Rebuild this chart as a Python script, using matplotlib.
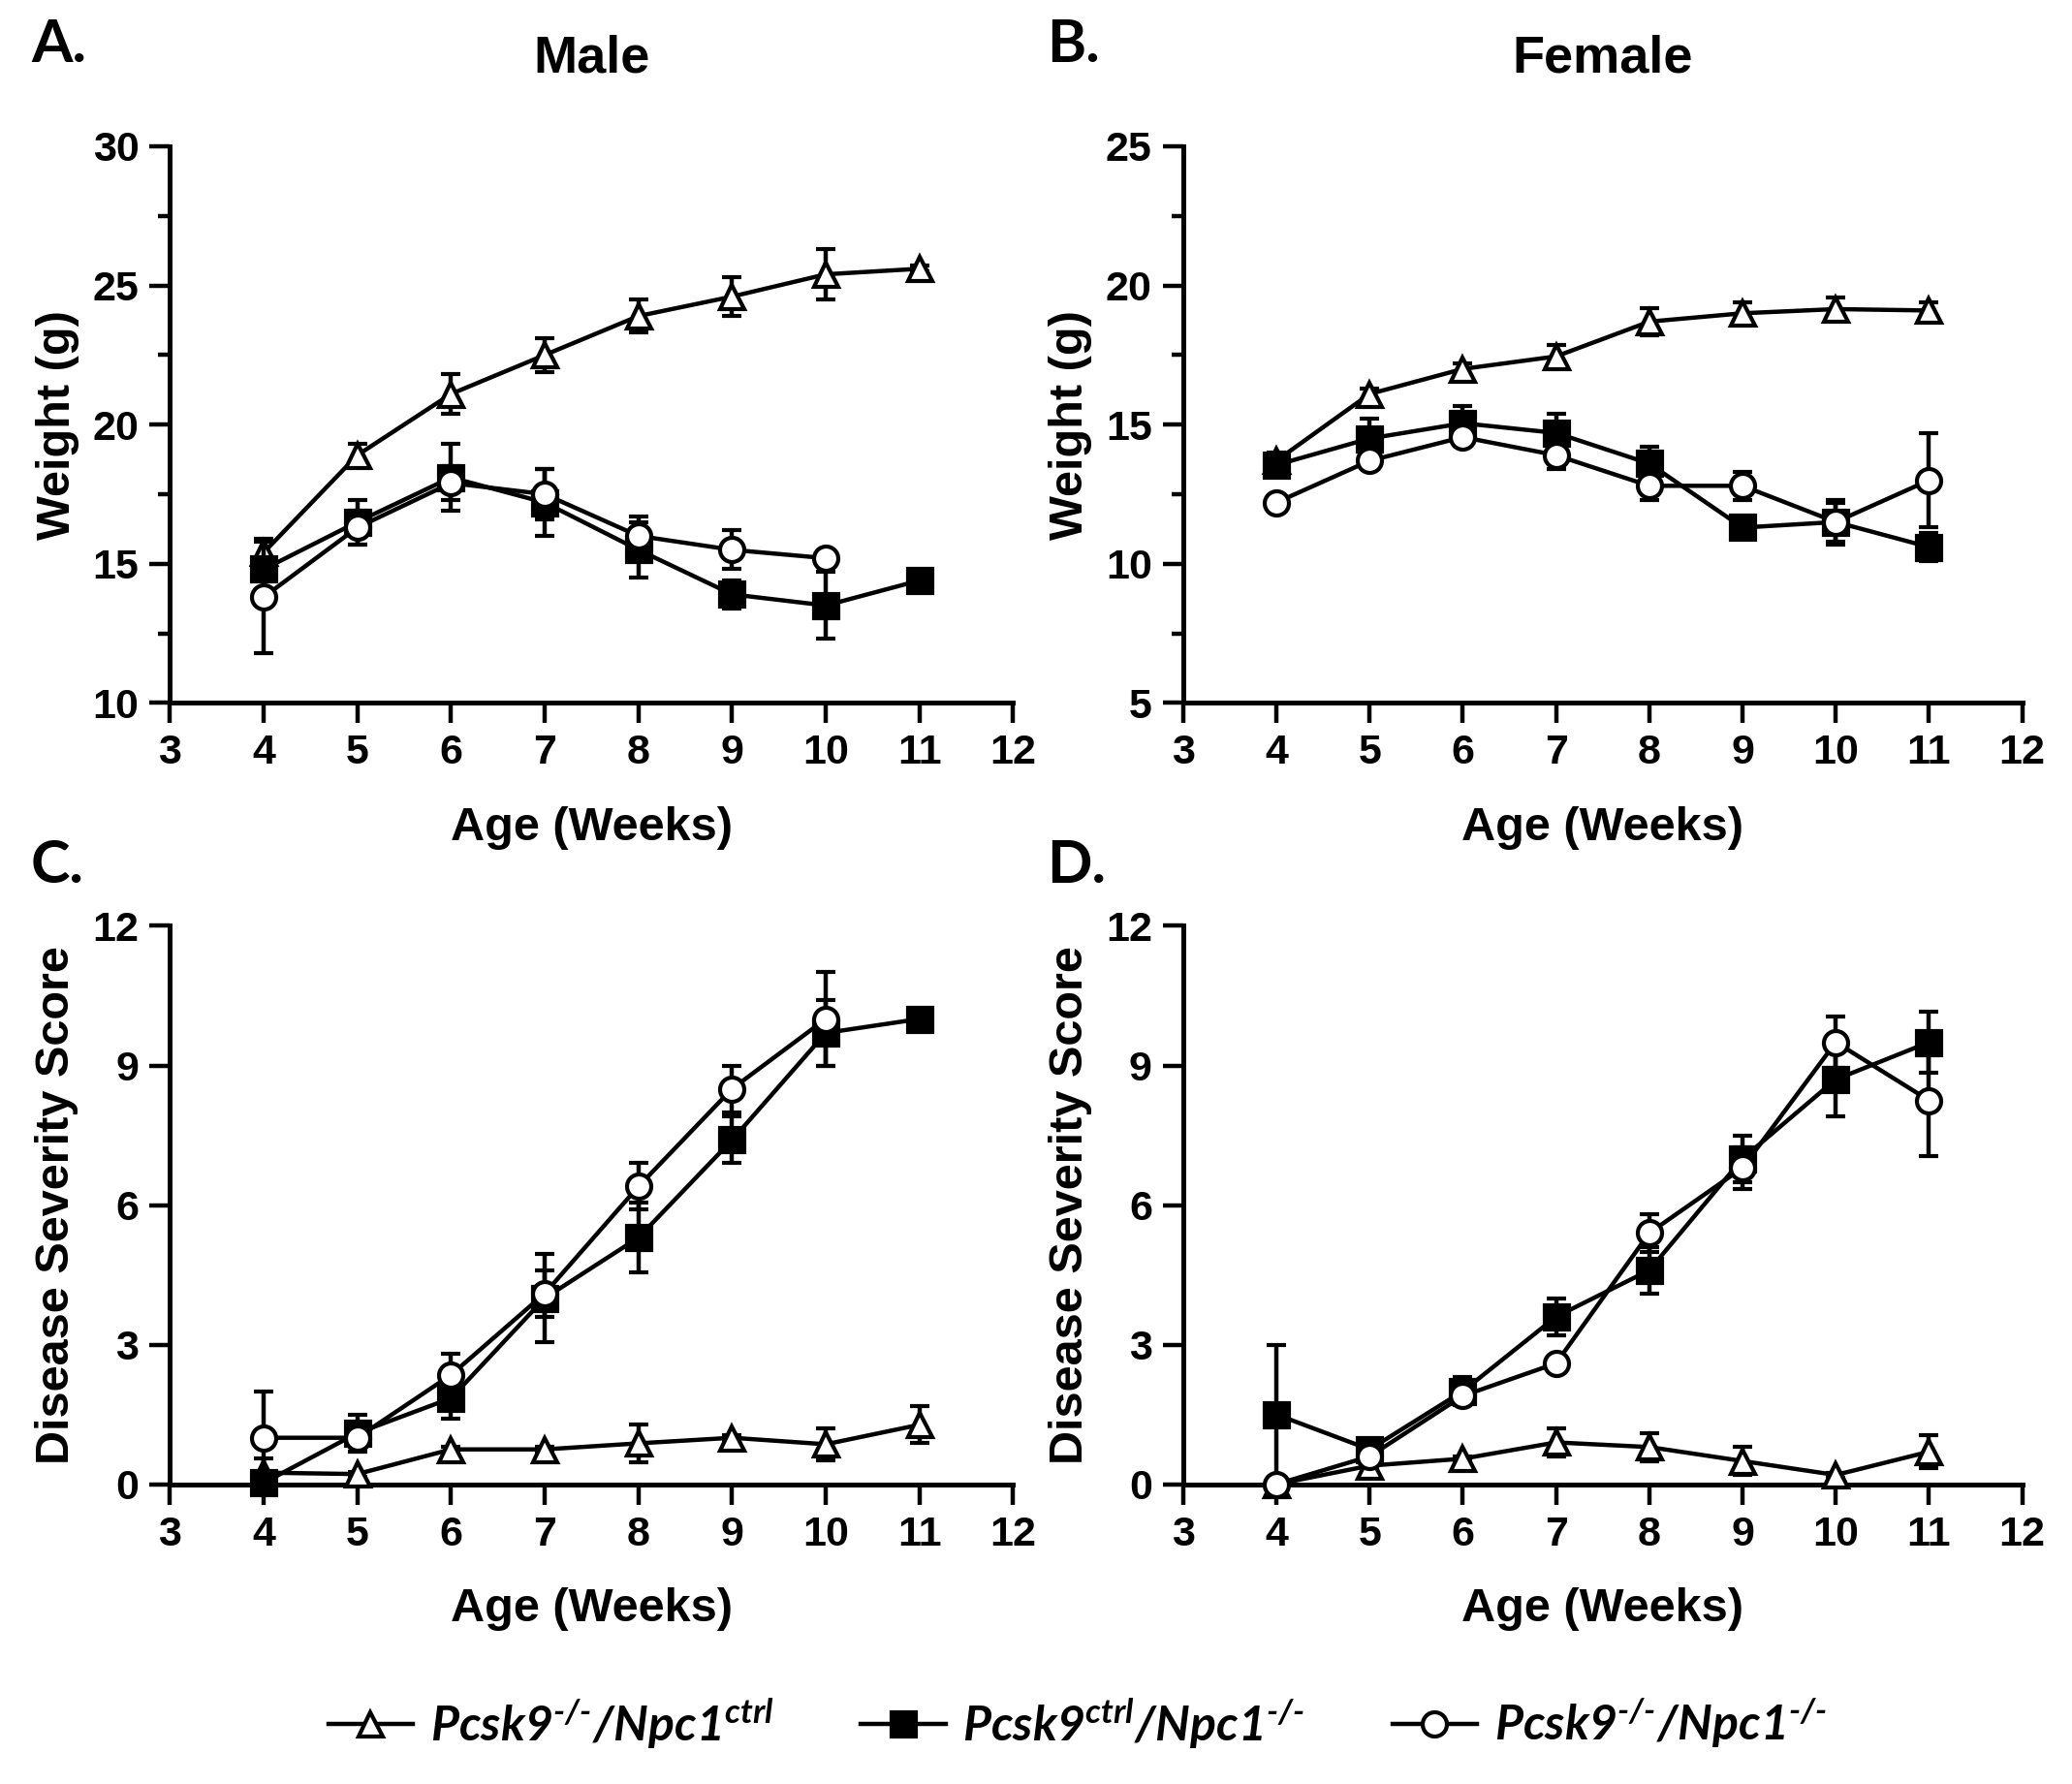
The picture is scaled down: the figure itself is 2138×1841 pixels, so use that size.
import numpy as np
import matplotlib.pyplot as plt
from matplotlib.lines import Line2D

plt.rcParams['font.family'] = ['Liberation Sans', 'DejaVu Sans']
plt.rcParams['font.weight'] = 'bold'
plt.rcParams['mathtext.fontset'] = 'custom'
plt.rcParams['mathtext.rm'] = 'Lato:bold:italic'
plt.rcParams['mathtext.it'] = 'Lato:bold:italic'
plt.rcParams['mathtext.bf'] = 'Lato:bold:italic'

# ages (weeks)
weeks = [4, 5, 6, 7, 8, 9, 10, 11]

# A. male weight (g)
male_wt_ctrl = [15.4, 18.9, 21.1, 22.5, 23.9, 24.6, 25.4, 25.6]
male_wt_ctrl_err = [0.5, 0.4, 0.7, 0.6, 0.6, 0.7, 0.9, 0.1]
male_wt_npc = [14.8, 16.5, 18.1, 17.2, 15.5, 13.9, 13.5, 14.4]
male_wt_npc_err = [0.4, 0.8, 1.2, 1.2, 1.0, 0.5, 1.2, 0.1]
male_wt_dko = [13.8, 16.3, 17.9, 17.5, 16.0, 15.5, 15.2]
male_wt_dko_err = [2.0, 0.6, 0.6, 0.9, 0.7, 0.7, 0.1]

# B. female weight (g)
fem_wt_ctrl = [13.7, 16.1, 17.0, 17.45, 18.7, 19.0, 19.15, 19.1]
fem_wt_ctrl_err = [0.3, 0.2, 0.2, 0.4, 0.5, 0.4, 0.4, 0.3]
fem_wt_npc = [13.55, 14.5, 15.05, 14.7, 13.6, 11.3, 11.5, 10.6]
fem_wt_npc_err = [0.3, 0.7, 0.6, 0.7, 0.6, 0.2, 0.8, 0.5]
fem_wt_dko = [12.2, 13.7, 14.55, 13.9, 12.8, 12.8, 11.5, 13.0]
fem_wt_dko_err = [0.1, 0.1, 0.3, 0.5, 0.5, 0.5, 0.7, 1.7]

# C. male disease severity score
male_ds_ctrl = [0.25, 0.22, 0.75, 0.75, 0.88, 1.0, 0.86, 1.28]
male_ds_ctrl_err = [0.3, 0.05, 0.05, 0.05, 0.4, 0.05, 0.35, 0.4]
male_ds_npc = [0.03, 1.1, 1.85, 4.0, 5.3, 7.4, 9.7, 10.0]
male_ds_npc_err = [0.0, 0.4, 0.45, 0.95, 0.75, 0.5, 0.7, 0.0]
male_ds_dko = [1.0, 1.0, 2.35, 4.1, 6.4, 8.5, 10.0]
male_ds_dko_err = [1.0, 0.3, 0.45, 0.5, 0.5, 0.5, 1.0]

# D. female disease severity score
fem_ds_ctrl = [0.0, 0.4, 0.55, 0.9, 0.8, 0.5, 0.2, 0.7]
fem_ds_ctrl_err = [0.0, 0.05, 0.05, 0.3, 0.3, 0.3, 0.05, 0.35]
fem_ds_npc = [1.5, 0.75, 2.0, 3.6, 4.6, 7.0, 8.7, 9.5]
fem_ds_npc_err = [1.5, 0.2, 0.3, 0.4, 0.5, 0.5, 0.8, 0.65]
fem_ds_dko = [0.0, 0.6, 1.9, 2.6, 5.4, 6.8, 9.5, 8.25]
fem_ds_dko_err = [0.0, 0.1, 0.1, 0.1, 0.4, 0.45, 0.55, 1.2]

labels = [r'$Pcsk9^{\text{-/-}}/Npc1^{ctrl}$',
          r'$Pcsk9^{ctrl}/Npc1^{\text{-/-}}$',
          r'$Pcsk9^{\text{-/-}}/Npc1^{\text{-/-}}$']

styles = [dict(marker='^', mfc='white'),
          dict(marker='s', mfc='black'),
          dict(marker='o', mfc='white')]

LW = 3.2
SPINE = 3.6
MS = 18


def draw_series(ax, y, err, st, z):
    x = weeks[:len(y)]
    ax.errorbar(x, y, yerr=err, color='black', lw=LW, elinewidth=LW,
                capsize=7, capthick=LW, marker=st['marker'], mfc=st['mfc'],
                mec='black', mew=3, ms=MS, zorder=z, clip_on=False)


def style_axis(ax, ylim, yticks, minor=None):
    ax.set_xlim(3, 12)
    ax.set_ylim(*ylim)
    ax.set_xticks(range(3, 13))
    ax.set_yticks(yticks)
    if minor is not None:
        ax.set_yticks(minor, minor=True)
    for s in ['top', 'right']:
        ax.spines[s].set_visible(False)
    for s in ['left', 'bottom']:
        ax.spines[s].set_linewidth(SPINE)
    ax.tick_params(which='major', direction='out', length=15, width=3.2,
                   labelsize=31, pad=8)
    ax.tick_params(which='minor', direction='out', length=9, width=3.2)
    for lab in ax.get_xticklabels() + ax.get_yticklabels():
        lab.set_fontweight('bold')
    ax.set_xlabel('Age (Weeks)', fontsize=35, fontweight='bold')
    ax.xaxis.set_label_coords(0.5, -0.185)


fig = plt.figure(figsize=(21.38, 18.41), dpi=100)
axA = fig.add_axes([0.082, 0.606, 0.407, 0.312])
axB = fig.add_axes([0.571, 0.606, 0.405, 0.312])
axC = fig.add_axes([0.082, 0.168, 0.407, 0.313])
axD = fig.add_axes([0.571, 0.168, 0.405, 0.313])

panels = [
    (axA, [male_wt_ctrl, male_wt_npc, male_wt_dko],
     [male_wt_ctrl_err, male_wt_npc_err, male_wt_dko_err]),
    (axB, [fem_wt_ctrl, fem_wt_npc, fem_wt_dko],
     [fem_wt_ctrl_err, fem_wt_npc_err, fem_wt_dko_err]),
    (axC, [male_ds_ctrl, male_ds_npc, male_ds_dko],
     [male_ds_ctrl_err, male_ds_npc_err, male_ds_dko_err]),
    (axD, [fem_ds_ctrl, fem_ds_npc, fem_ds_dko],
     [fem_ds_ctrl_err, fem_ds_npc_err, fem_ds_dko_err]),
]

for ax, ys, errs in panels:
    for i, (y, e) in enumerate(zip(ys, errs)):
        draw_series(ax, y, e, styles[i], 3 + i)

style_axis(axA, (10, 30), [10, 15, 20, 25, 30], [12.5, 17.5, 22.5, 27.5])
style_axis(axB, (5, 25), [5, 10, 15, 20, 25], [7.5, 12.5, 17.5, 22.5])
style_axis(axC, (0, 12), [0, 3, 6, 9, 12])
style_axis(axD, (0, 12), [0, 3, 6, 9, 12])

axA.set_ylabel('Weight (g)', fontsize=35, fontweight='bold', labelpad=10)
axB.set_ylabel('Weight (g)', fontsize=35, fontweight='bold', labelpad=10)
axC.set_ylabel('Disease Severity Score', fontsize=35, fontweight='bold', labelpad=10)
axD.set_ylabel('Disease Severity Score', fontsize=35, fontweight='bold', labelpad=10)

axA.set_title('Male', fontsize=39, fontweight='bold', pad=55)
axB.set_title('Female', fontsize=39, fontweight='bold', pad=55)

for txt, x, y in [('A.', 0.015, 0.99), ('B.', 0.505, 0.99),
                  ('C.', 0.015, 0.53), ('D.', 0.505, 0.53)]:
    fig.text(x, y, txt, fontsize=44, fontweight='bold', family='Lato',
             va='top', ha='left')

handles = [Line2D([0], [0], color='black', lw=LW, marker=st['marker'],
                  mfc=st['mfc'], mec='black', mew=3, ms=MS) for st in styles]
fig.legend(handles, labels, loc='center', bbox_to_anchor=(0.52, 0.034),
           ncol=3, frameon=False, fontsize=36, handlelength=1.75,
           handletextpad=0.35, columnspacing=1.8)

fig.savefig('out.png', dpi=100)
